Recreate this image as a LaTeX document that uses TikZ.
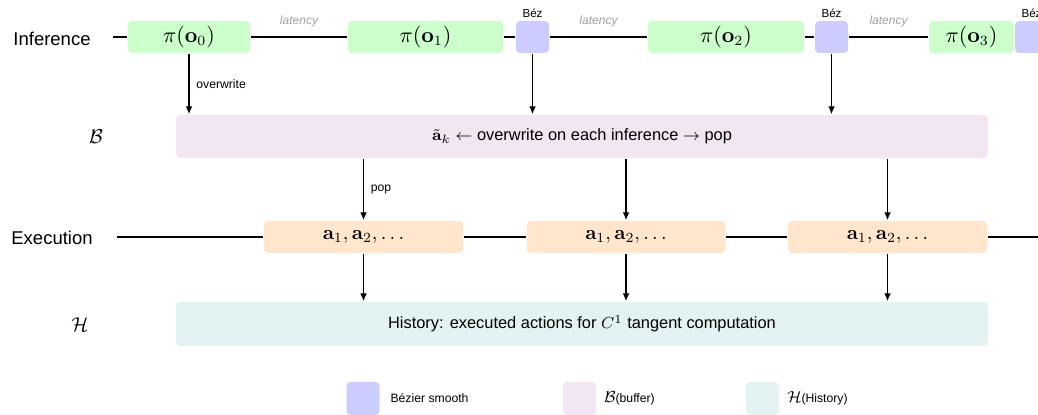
\documentclass[tikz,border=0pt]{standalone}
\usepackage{amsmath}
\usepackage[no-math]{fontspec}
\setmainfont{Liberation Sans}
\usetikzlibrary{arrows.meta}

\definecolor{polgreen}{RGB}{204,255,204}
\definecolor{bezblue}{RGB}{204,204,255}
\definecolor{bufpink}{RGB}{242,230,242}
\definecolor{exorange}{RGB}{255,230,204}
\definecolor{histteal}{RGB}{227,242,242}
\definecolor{latgray}{RGB}{160,160,160}

\begin{document}
\begin{tikzpicture}[
  x=0.5pt, y=-0.5pt,
  box/.style={rounded corners=2pt, inner sep=0pt},
  polbox/.style={box, fill=polgreen, minimum height=16pt, font=\fontsize{10.5}{12}\selectfont},
  bezbox/.style={box, fill=bezblue, minimum width=16.5pt, minimum height=16pt,
    label={[bezlab]above:Béz}},
  bezlab/.style={font=\fontsize{5.8}{7}\selectfont, inner sep=1.2pt},
  bufbox/.style={box, fill=bufpink, minimum width=406pt, minimum height=21.5pt, font=\fontsize{8.2}{10}\selectfont},
  exbox/.style={box, fill=exorange, minimum width=99.5pt, minimum height=16pt, font=\fontsize{10.4}{12}\selectfont},
  histbox/.style={box, fill=histteal, minimum width=406pt, minimum height=22pt, font=\fontsize{8.2}{10}\selectfont},
  swatch/.style={box, minimum width=16.5pt, minimum height=16.5pt},
  rowlab/.style={font=\fontsize{9.25}{11}\selectfont},
  mathlab/.style={font=\fontsize{10}{12}\selectfont},
  lat/.style={font=\fontsize{6}{7}\itshape, text=latgray, above=1.5pt},
  small/.style={font=\fontsize{6.1}{7}\selectfont},
  arr/.style={-{Latex[length=4pt,width=3.4pt]}, line width=0.7pt},
  line width=0.7pt,
  ]
  \useasboundingbox (0,0) rectangle (1038,415);

  % row labels
  \node[rowlab] (inf) at (52,39) {Inference};
  \node[mathlab] (lb) at (96,137) {$\mathcal{B}$};
  \node[rowlab] (exe) at (52,238) {Execution};
  \node[mathlab] (lh) at (80,325) {$\mathcal{H}$};

  % inference row
  \node[polbox, minimum width=61pt] (p0) at (189,37) {$\pi(\mathbf{o}_0)$};
  \node[polbox, minimum width=77.5pt] (p1) at (425.5,37) {$\pi(\mathbf{o}_1)$};
  \node[bezbox] (b1) at (532.5,37) {};
  \node[polbox, minimum width=78pt] (p2) at (726,37) {$\pi(\mathbf{o}_2)$};
  \node[bezbox] (b2) at (831.5,37) {};
  \node[polbox, minimum width=42.5pt] (p3) at (971.5,37) {$\pi(\mathbf{o}_3)$};
  \node[bezbox] (b3) at (1031.5,37) {};
  \coordinate (infL) at (113,37);
  \draw (infL) -- (p0) -- node[lat]{latency} (p1) -- (b1)
    -- node[lat]{latency} (p2) -- (b2) -- node[lat]{latency} (p3);

  % buffer
  \node[bufbox] (buf) at (582,136.5)
    {$\tilde{\mathbf{a}}_k \leftarrow$ overwrite on each inference $\rightarrow$ pop};
  \draw[arr] (p0.south) -- node[small, right]{overwrite} (p0.south |- buf.north);
  \draw[arr] (b1.south) -- (b1.south |- buf.north);
  \draw[arr] (b2.south) -- (b2.south |- buf.north);

  % execution row
  \node[exbox] (e1) at (363.5,237) {$\mathbf{a}_1, \mathbf{a}_2, \ldots$};
  \node[exbox] (e2) at (626,237) {$\mathbf{a}_1, \mathbf{a}_2, \ldots$};
  \node[exbox] (e3) at (887.5,237) {$\mathbf{a}_1, \mathbf{a}_2, \ldots$};
  \coordinate (exL) at (117,237);
  \coordinate (exR) at (1040,237);
  \draw (exL) -- (e1) -- (e2) -- (e3) -- (exR);
  \draw[arr] (e1.north |- buf.south) -- node[small, right]{pop} (e1.north);
  \draw[arr] (e2.north |- buf.south) -- (e2.north);
  \draw[arr] (e3.north |- buf.south) -- (e3.north);

  % history
  \node[histbox] (hist) at (582,324)
    {History: executed actions for $C^1$ tangent computation};
  \draw[arr] (e1.south) -- (e1.south |- hist.north);
  \draw[arr] (e2.south) -- (e2.south |- hist.north);
  \draw[arr] (e3.south) -- (e3.south |- hist.north);

  % legend
  \node[swatch, fill=bezblue, label={[small, label distance=1.5pt]right:Bézier smooth}] (kb) at (363,398.5) {};
  \node[swatch, fill=bufpink, label={[small, label distance=0pt]right:{\fontsize{8}{9}\selectfont$\mathcal{B}$}(buffer)}] (kf) at (579.5,398.5) {};
  \node[swatch, fill=histteal, label={[small, label distance=0pt]right:{\fontsize{8}{9}\selectfont$\mathcal{H}$}(History)}] (kh) at (762.5,398.5) {};
\end{tikzpicture}
\end{document}
